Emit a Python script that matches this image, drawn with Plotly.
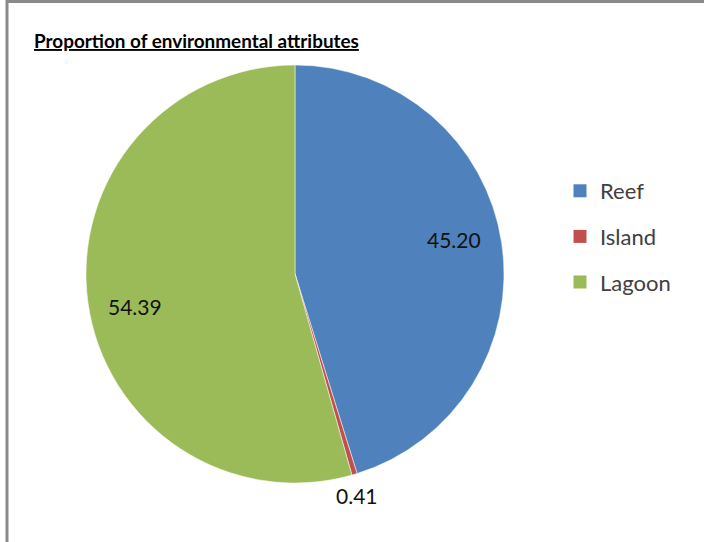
import numpy as np
import plotly.graph_objects as go

# Share of each environmental attribute (percent)
categories = ["Reef", "Island", "Lagoon"]
values = [45.20, 0.41, 54.39]
colors = ["#4F81BD", "#C0504D", "#9BBB59"]
label_inside = [True, False, True]

W, H = 704, 542
font_family = "Lato, 'Open Sans', sans-serif"

# Pie placement in pixels (centre and radius)
CX, CY, R = 295, 274, 209

fig = go.Figure()

fig.add_trace(go.Pie(
    labels=categories,
    values=values,
    sort=False,
    direction="clockwise",
    rotation=0,
    marker=dict(colors=colors, line=dict(color="white", width=0.5)),
    textinfo="none",
    showlegend=False,
    hoverinfo="label+value",
    domain=dict(x=[(CX - R) / W, (CX + R) / W],
                y=[(H - CY - R) / H, (H - CY + R) / H]),
))

# Value labels placed along each slice's bisector
vals = np.array(values, dtype=float)
cum = np.cumsum(vals) - vals / 2
mid_deg = cum / vals.sum() * 360.0
annotations = []
for v, ang, inside in zip(values, mid_deg, label_inside):
    frac = 0.78 if inside else 1.10
    a = np.radians(ang - 3.5 if inside else ang + 1.0)
    px = CX + frac * R * np.sin(a)
    py = CY - frac * R * np.cos(a)
    annotations.append(dict(
        text=f"{v:.2f}", x=px / W, y=1 - py / H, xref="paper", yref="paper",
        xanchor="center", yanchor="middle", showarrow=False,
        font=dict(family=font_family, size=21, color="#111111"),
    ))

annotations.append(dict(
    text="<b><u>Proportion of environmental attributes</u></b>",
    x=32 / W, y=1 - 40 / H, xref="paper", yref="paper",
    xanchor="left", yanchor="middle", showarrow=False,
    font=dict(family=font_family, size=18.9, color="black"),
))

# Legend entries as separate groups so the rows can be spaced apart
for name, col in zip(categories, colors):
    fig.add_trace(go.Scatter(
        x=[None], y=[None], mode="markers", name=name,
        legendgroup=name,
        marker=dict(symbol="square", size=13, color=col),
    ))

fig.update_layout(
    width=W, height=H,
    margin=dict(l=0, r=0, t=0, b=0),
    paper_bgcolor="white",
    plot_bgcolor="white",
    xaxis=dict(visible=False),
    yaxis=dict(visible=False),
    legend=dict(
        x=560 / W, y=1 - 170 / H, xanchor="left", yanchor="top",
        font=dict(family=font_family, size=22, color="#404040"),
        tracegroupgap=14, itemwidth=30,
        bgcolor="rgba(0,0,0,0)",
    ),
    annotations=annotations,
    shapes=[
        dict(type="line", xref="paper", yref="paper",
             x0=7 / W, x1=1, y0=1 - 1.5 / H, y1=1 - 1.5 / H,
             line=dict(color="#8a8a8a", width=3)),
        dict(type="line", xref="paper", yref="paper",
             x0=7 / W, x1=7 / W, y0=0, y1=1,
             line=dict(color="#8a8a8a", width=3)),
    ],
)

fig.write_html("out.html")
